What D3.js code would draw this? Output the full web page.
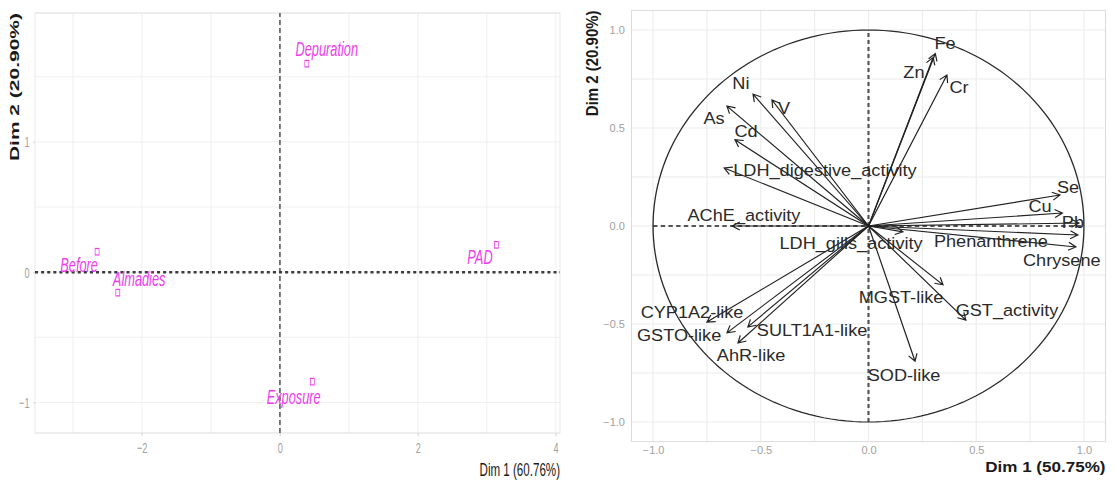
<!DOCTYPE html>
<html lang="en">
<head>
<meta charset="UTF-8">
<title>PCA - individuals and variables</title>
<style>
body { margin: 0; background: #fff; }
svg text { font-family: "Liberation Sans", Arial, sans-serif; }
.grid line { stroke: #ececec; stroke-width: 1; }
.frame { fill: none; stroke: #dcdcdc; stroke-width: 1; }
.axis path { display: none; }
.axis line { stroke: #c8c8c8; }
.axis text { fill: #a0a0a0; }
.ind-label { fill: #ee3cee; font-style: italic; font-size: 21px; }
.ind-point { fill: none; stroke: #ee3cee; stroke-width: 1.2; }
.var-arrow { fill: none; stroke: #222; stroke-width: 1.1; }
.var-label { fill: #2a2a2a; font-size: 16.5px; }
</style>
</head>
<body>
<svg id="chart" width="1116" height="482"></svg>
<script src="https://cdnjs.cloudflare.com/ajax/libs/d3/7.8.5/d3.min.js"></script>
<script>
// ---- individuals (left map) ----
const indNames = ["Before", "Almadies", "Depuration", "Exposure", "PAD"];
const indDim1 = [-2.65, -2.35, 0.39, 0.47, 3.14];
const indDim2 = [0.157, -0.157, 1.6, -0.84, 0.21];
const indLabelDim1 = [-2.91, -2.04, 0.68, 0.2, 2.9];
const indLabelDim2 = [0.057, -0.05, 1.713, -0.954, 0.119];
const indXTicks = [-2, 0, 2, 4];
const indYTicks = [-1, 0, 1];
const indXGrid = [-3, -2, -1, 0, 1, 2, 3, 4];
const indYGrid = [-1, -0.5, 0, 0.5, 1, 1.5];

// ---- variables (correlation circle) ----
const varNames = ["Fe", "Zn", "Cr", "Ni", "V", "As", "Cd", "LDH_digestive_activity",
  "AChE_activity", "LDH_gills_activity", "Se", "Cu", "Pb", "Phenanthrene", "Chrysene",
  "MGST-like", "GST_activity", "SOD-like", "CYP1A2-like", "GSTO-like", "SULT1A1-like", "AhR-like"];
const varDim1 = [0.31, 0.30, 0.364, -0.536, -0.448, -0.657, -0.62, -0.67,
  -0.633, 0.16, 0.889, 0.90, 0.977, 0.972, 0.963,
  0.346, 0.452, 0.216, -0.75, -0.657, -0.56, -0.606];
const varDim2 = [0.88, 0.86, 0.77, 0.673, 0.643, 0.612, 0.44, 0.296,
  0.0, -0.03, 0.158, 0.066, 0.015, -0.046, -0.107,
  -0.30, -0.48, -0.69, -0.49, -0.545, -0.515, -0.597];
const varLabelDim1 = [0.355, 0.211, 0.42, -0.592, -0.392, -0.717, -0.568, -0.202,
  -0.578, -0.081, 0.926, 0.796, 0.949, 0.568, 0.897,
  0.151, 0.643, 0.165, -0.819, -0.879, -0.262, -0.545];
const varLabelDim2 = [0.934, 0.786, 0.709, 0.73, 0.602, 0.551, 0.485, 0.286,
  0.056, -0.087, 0.199, 0.102, 0.02, -0.077, -0.173,
  -0.362, -0.429, -0.76, -0.439, -0.556, -0.531, -0.658];
const varTicks = [-1, -0.5, 0, 0.5, 1];
const varGrid = [-1, -0.75, -0.5, -0.25, 0, 0.25, 0.5, 0.75, 1];

const svg = d3.select("#chart");

// ================= left panel =================
// the original image is squeezed horizontally, so draw wide and scale down
const sxL = 0.61;
const gL = svg.append("g").attr("transform", "scale(" + sxL + ",1)");
const xL = d3.scaleLinear().domain([-3.55, 4.06]).range([35 / sxL, 560 / sxL]);
const yL = d3.scaleLinear().domain([-1.234, 1.989]).range([433, 13]);

const gridL = gL.append("g").attr("class", "grid");
gridL.selectAll(".vx").data(indXGrid).join("line")
  .attr("x1", d => xL(d)).attr("x2", d => xL(d))
  .attr("y1", yL.range()[0]).attr("y2", yL.range()[1]);
gridL.selectAll(".hy").data(indYGrid).join("line")
  .attr("y1", d => yL(d)).attr("y2", d => yL(d))
  .attr("x1", xL.range()[0]).attr("x2", xL.range()[1]);

gL.append("rect").attr("class", "frame")
  .attr("x", xL.range()[0]).attr("y", yL.range()[1])
  .attr("width", xL.range()[1] - xL.range()[0])
  .attr("height", yL.range()[0] - yL.range()[1]);

gL.append("g").attr("class", "axis")
  .attr("transform", "translate(0," + yL.range()[0] + ")")
  .call(d3.axisBottom(xL).tickValues(indXTicks).tickSize(3).tickPadding(6).tickFormat(d3.format("d")))
  .selectAll("text").style("font-size", "15px");
gL.append("g").attr("class", "axis")
  .attr("transform", "translate(" + xL.range()[0] + ",0)")
  .call(d3.axisLeft(yL).tickValues(indYTicks).tickSize(3).tickPadding(6).tickFormat(d3.format("d")))
  .selectAll("text").style("font-size", "15px");

// zero lines
gL.append("line")
  .attr("x1", xL(0)).attr("x2", xL(0)).attr("y1", yL.range()[0]).attr("y2", yL.range()[1])
  .attr("stroke", "#6e6e6e").attr("stroke-width", 3).attr("stroke-dasharray", "5,3");
gL.append("line")
  .attr("x1", xL.range()[0]).attr("x2", xL.range()[1]).attr("y1", yL(0)).attr("y2", yL(0))
  .attr("stroke", "#3c3c3c").attr("stroke-width", 2.6).attr("stroke-dasharray", "5,5");

// points and labels
const s = 6.5;
gL.selectAll(".ind-point").data(indNames).join("rect")
  .attr("class", "ind-point")
  .attr("x", (d, i) => xL(indDim1[i]) - s / 2)
  .attr("y", (d, i) => yL(indDim2[i]) - s / 2)
  .attr("width", s).attr("height", s);
gL.selectAll(".ind-label").data(indNames).join("text")
  .attr("class", "ind-label")
  .attr("x", (d, i) => xL(indLabelDim1[i]))
  .attr("y", (d, i) => yL(indLabelDim2[i]))
  .attr("dy", "0.35em")
  .attr("text-anchor", "middle")
  .text(d => d);

gL.append("text")
  .attr("x", xL.range()[1]).attr("y", 476)
  .attr("text-anchor", "end")
  .style("font-size", "19px").style("fill", "#1a1a1a")
  .text("Dim 1 (60.76%)");
gL.append("text")
  .attr("transform", "translate(" + (19 / sxL) + "," + yL.range()[1] + ") rotate(-90)")
  .attr("text-anchor", "end")
  .style("font-size", "21px").style("font-weight", "bold").style("fill", "#1a1a1a")
  .text("Dim 2 (20.90%)");

// ================= right panel =================
const sxR = 1.1;
const gR = svg.append("g").attr("transform", "scale(" + sxR + ",1)");
const xR = d3.scaleLinear().domain([-1.1, 1.1]).range([631.5 / sxR, 1105.5 / sxR]);
const yR = d3.scaleLinear().domain([-1.1, 1.1]).range([441.6, 10.4]);

const gridR = gR.append("g").attr("class", "grid");
gridR.selectAll(".vx").data(varGrid).join("line")
  .attr("x1", d => xR(d)).attr("x2", d => xR(d))
  .attr("y1", yR.range()[0]).attr("y2", yR.range()[1]);
gridR.selectAll(".hy").data(varGrid).join("line")
  .attr("y1", d => yR(d)).attr("y2", d => yR(d))
  .attr("x1", xR.range()[0]).attr("x2", xR.range()[1]);

gR.append("rect").attr("class", "frame")
  .attr("x", xR.range()[0]).attr("y", yR.range()[1])
  .attr("width", xR.range()[1] - xR.range()[0])
  .attr("height", yR.range()[0] - yR.range()[1]);

gR.append("g").attr("class", "axis")
  .attr("transform", "translate(0," + yR.range()[0] + ")")
  .call(d3.axisBottom(xR).tickValues(varTicks).tickSize(0).tickPadding(5).tickFormat(d3.format(".1f")))
  .selectAll("text").style("font-size", "10px");
gR.append("g").attr("class", "axis")
  .attr("transform", "translate(" + xR.range()[0] + ",0)")
  .call(d3.axisLeft(yR).tickValues(varTicks).tickSize(0).tickPadding(6).tickFormat(d3.format(".1f")))
  .selectAll("text").style("font-size", "10px");

// zero lines
gR.append("line")
  .attr("x1", xR(0)).attr("x2", xR(0)).attr("y1", yR(-1)).attr("y2", yR(1))
  .attr("stroke", "#555").attr("stroke-width", 2).attr("stroke-dasharray", "4,3");
gR.append("line")
  .attr("x1", xR(-1)).attr("x2", xR(1)).attr("y1", yR(0)).attr("y2", yR(0))
  .attr("stroke", "#555").attr("stroke-width", 2).attr("stroke-dasharray", "4,3");

// unit circle
const circ = d3.range(0, 361, 2).map(a => [Math.cos(a * Math.PI / 180), Math.sin(a * Math.PI / 180)]);
gR.append("path")
  .attr("d", d3.line().x(d => xR(d[0])).y(d => yR(d[1]))(circ))
  .attr("fill", "none").attr("stroke", "#2a2a2a").attr("stroke-width", 1.2);

// arrows
const head = 8;
function arrowPath(i) {
  const x0 = xR(0), y0 = yR(0);
  const x1 = xR(varDim1[i]), y1 = yR(varDim2[i]);
  const a = Math.atan2(y1 - y0, x1 - x0);
  const h1 = [x1 - head * Math.cos(a - Math.PI / 6), y1 - head * Math.sin(a - Math.PI / 6)];
  const h2 = [x1 - head * Math.cos(a + Math.PI / 6), y1 - head * Math.sin(a + Math.PI / 6)];
  return "M" + x0 + "," + y0 + "L" + x1 + "," + y1 +
    "M" + h1[0] + "," + h1[1] + "L" + x1 + "," + y1 + "L" + h2[0] + "," + h2[1];
}
gR.selectAll(".var-arrow").data(varNames).join("path")
  .attr("class", "var-arrow")
  .attr("d", (d, i) => arrowPath(i));

gR.selectAll(".var-label").data(varNames).join("text")
  .attr("class", "var-label")
  .attr("x", (d, i) => xR(varLabelDim1[i]))
  .attr("y", (d, i) => yR(varLabelDim2[i]))
  .attr("dy", "0.35em")
  .attr("text-anchor", "middle")
  .text(d => d);

gR.append("text")
  .attr("x", xR.range()[1]).attr("y", 472)
  .attr("text-anchor", "end")
  .style("font-size", "15.5px").style("font-weight", "bold").style("fill", "#1a1a1a")
  .text("Dim 1 (50.75%)");
gR.append("text")
  .attr("transform", "translate(" + (598 / sxR) + "," + yR.range()[1] + ") rotate(-90)")
  .attr("text-anchor", "end")
  .style("font-size", "15px").style("font-weight", "bold").style("fill", "#1a1a1a")
  .text("Dim 2 (20.90%)");
</script>
</body>
</html>
